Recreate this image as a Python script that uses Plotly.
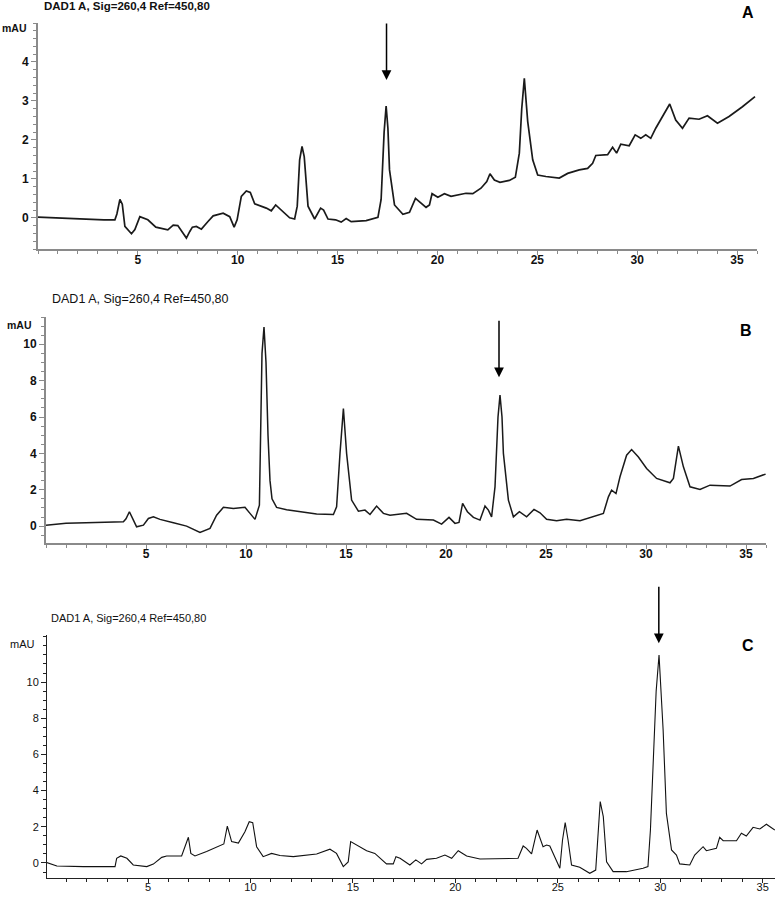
import plotly.graph_objects as go

# --- panel A (time in min, signal in mAU) ---
a_time = [0.0, 0.8, 1.5, 2.5, 3.3, 3.85, 3.95, 4.1, 4.22, 4.35, 4.68, 4.85, 5.1, 5.5, 5.9, 6.5,
          6.77, 7.0, 7.2, 7.43, 7.6, 7.73, 7.93, 8.18, 8.5, 8.77, 9.27, 9.6, 9.82, 9.97, 10.18,
          10.43, 10.63, 10.85, 11.43, 11.68, 11.9, 12.18, 12.6, 12.85, 12.98, 13.1, 13.22, 13.33,
          13.52, 13.85, 14.15, 14.3, 14.52, 14.9, 15.18, 15.43, 15.68, 16.43, 17.02, 17.18, 17.33,
          17.43, 17.52, 17.6, 17.85, 18.27, 18.6, 18.9, 19.18, 19.43, 19.6, 19.73, 20.02, 20.35,
          20.68, 21.43, 21.77, 22.18, 22.47, 22.63, 22.85, 23.13, 23.6, 23.9, 24.1, 24.22, 24.35,
          24.45, 24.52, 24.77, 25.02, 25.43, 26.1, 26.52, 27.1, 27.52, 27.77, 27.93, 28.52, 28.77,
          28.97, 29.18, 29.6, 29.9, 30.18, 30.43, 30.68, 30.93, 31.35, 31.63, 31.93, 32.27, 32.6,
          33.1, 33.52, 34.02, 34.6, 35.27, 35.9]
a_mau = [0.02, 0.0, -0.02, -0.03, -0.05, -0.05, 0.1, 0.47, 0.35, -0.22, -0.41, -0.3, 0.03, -0.05,
         -0.24, -0.31, -0.19, -0.2, -0.35, -0.52, -0.35, -0.24, -0.22, -0.29, -0.1, 0.05, 0.12,
         0.03, -0.24, -0.05, 0.55, 0.69, 0.65, 0.36, 0.25, 0.18, 0.33, 0.2, 0.0, -0.03, 0.3, 1.49,
         1.83, 1.57, 0.3, -0.03, 0.25, 0.2, -0.03, -0.05, -0.11, -0.02, -0.1, -0.07, 0.01, 0.47,
         2.2, 2.87, 2.3, 1.23, 0.33, 0.09, 0.14, 0.5, 0.37, 0.27, 0.33, 0.62, 0.53, 0.62, 0.55,
         0.63, 0.62, 0.76, 0.93, 1.13, 0.97, 0.91, 0.96, 1.04, 1.66, 2.8, 3.58, 3.0, 2.47, 1.49,
         1.1, 1.06, 1.02, 1.14, 1.23, 1.27, 1.4, 1.6, 1.62, 1.81, 1.66, 1.89, 1.85, 2.13, 2.04,
         2.13, 2.04, 2.3, 2.68, 2.92, 2.51, 2.3, 2.56, 2.53, 2.62, 2.43, 2.6, 2.85, 3.11]

# --- panel B ---
b_time = [0.0, 1.0, 2.0, 3.0, 3.87, 4.0, 4.17, 4.37, 4.53, 4.87, 5.12, 5.37, 5.7, 6.37, 7.03, 7.7,
          8.2, 8.53, 8.87, 9.37, 9.95, 10.2, 10.45, 10.67, 10.72, 10.8, 10.9, 11.0, 11.1, 11.2,
          11.3, 11.53, 12.03, 12.7, 13.53, 14.37, 14.53, 14.7, 14.87, 15.03, 15.28, 15.62, 15.95,
          16.2, 16.53, 16.87, 17.2, 18.03, 18.53, 19.37, 19.78, 20.15, 20.45, 20.65, 20.83, 21.07,
          21.37, 21.7, 21.95, 22.12, 22.28, 22.45, 22.6, 22.7, 22.8, 22.87, 23.12, 23.37, 23.67,
          24.03, 24.4, 24.7, 25.03, 25.53, 26.03, 26.7, 27.37, 27.87, 28.12, 28.28, 28.5, 28.7,
          29.03, 29.28, 29.62, 30.03, 30.53, 31.2, 31.37, 31.62, 31.87, 32.2, 32.7, 33.2, 34.2,
          34.78, 35.37, 35.98]
b_mau = [0.05, 0.15, 0.18, 0.2, 0.24, 0.4, 0.79, 0.33, -0.04, 0.05, 0.42, 0.51, 0.37, 0.18, 0.0,
         -0.35, -0.13, 0.6, 1.03, 0.97, 1.03, 0.7, 0.37, 1.15, 4.0, 9.5, 10.95, 9.0, 5.0, 2.5, 1.5,
         1.03, 0.9, 0.79, 0.66, 0.64, 1.06, 4.0, 6.47, 4.0, 1.43, 0.82, 0.88, 0.64, 1.1, 0.7, 0.6,
         0.7, 0.37, 0.33, 0.11, 0.48, 0.15, 0.2, 1.25, 0.79, 0.48, 0.33, 1.1, 0.88, 0.51, 2.16,
         6.0, 7.2, 6.0, 4.0, 1.43, 0.51, 0.79, 0.51, 0.92, 0.73, 0.38, 0.29, 0.38, 0.29, 0.51, 0.7,
         1.61, 1.98, 1.79, 2.71, 3.9, 4.21, 3.8, 3.17, 2.62, 2.38, 2.62, 4.4, 3.26, 2.16, 2.01,
         2.25, 2.2, 2.56, 2.62, 2.86]

# --- panel C ---
c_time = [0.06, 0.55, 1.85, 3.39, 3.47, 3.67, 3.97, 4.28, 4.94, 5.26, 5.67, 5.91, 6.64, 6.85, 6.97,
          7.09, 7.29, 7.86, 8.51, 8.7, 8.87, 9.08, 9.41, 9.73, 9.94, 10.11, 10.3, 10.62, 11.03,
          11.44, 12.09, 12.74, 13.23, 13.88, 14.2, 14.53, 14.77, 14.89, 15.18, 15.67, 16.07,
          16.32, 16.64, 16.97, 17.1, 17.3, 17.78, 18.07, 18.35, 18.6, 19.08, 19.49, 19.82, 20.14,
          20.55, 21.2, 22.01, 23.06, 23.31, 23.47, 23.72, 23.99, 24.28, 24.45, 24.61, 24.94, 25.1,
          25.23, 25.36, 25.5, 25.67, 26.07, 26.56, 26.85, 26.97, 27.07, 27.22, 27.38, 27.7, 28.35,
          29.16, 29.4, 29.52, 29.65, 29.8, 29.94, 30.05, 30.14, 30.3, 30.55, 30.79, 30.95, 31.44,
          31.68, 32.09, 32.25, 32.74, 32.9, 33.07, 33.72, 33.96, 34.2, 34.53, 34.86, 35.18, 35.59]
c_mau = [0.02, -0.17, -0.2, -0.2, 0.26, 0.39, 0.26, -0.11, -0.2, -0.06, 0.31, 0.39, 0.39, 0.99,
         1.42, 0.53, 0.39, 0.63, 0.99, 1.05, 2.04, 1.18, 1.1, 1.73, 2.28, 2.23, 0.9, 0.35, 0.53,
         0.41, 0.35, 0.42, 0.5, 0.76, 0.53, -0.2, 0.06, 1.18, 0.99, 0.68, 0.53, 0.26, -0.05, -0.05,
         0.35, 0.26, -0.11, 0.17, -0.05, 0.2, 0.26, 0.44, 0.26, 0.68, 0.39, 0.22, 0.22, 0.26, 0.94,
         0.81, 0.5, 1.82, 0.9, 0.99, 0.94, 0.07, -0.29, 1.27, 2.23, 1.27, -0.11, -0.24, -0.57,
         -0.39, 2.0, 3.39, 2.56, 0.07, -0.48, -0.48, -0.29, -0.2, 1.82, 5.51, 9.5, 11.49, 9.5,
         7.35, 2.74, 0.72, 0.44, -0.05, -0.11, 0.44, 0.9, 0.68, 0.81, 1.42, 1.23, 1.23, 1.64, 1.49,
         1.97, 1.88, 2.14, 1.82]

x_ticks = [5, 10, 15, 20, 25, 30, 35]
a_yticks = [0, 1, 2, 3, 4]
bc_yticks = [0, 2, 4, 6, 8, 10]
title_text = "DAD1 A, Sig=260,4 Ref=450,80"
marked = [(17.45, 3.54), (22.65, 8.19), (29.93, 12.15)]  # arrowed peaks A, B, C

W, H = 775, 899


def px(x):
    return x / W


def py(y):
    return 1 - y / H


fig = go.Figure()
fig.add_trace(go.Scatter(x=a_time, y=a_mau, mode="lines", xaxis="x", yaxis="y",
                         line=dict(color="#1a1a1a", width=1.7)))
fig.add_trace(go.Scatter(x=b_time, y=b_mau, mode="lines", xaxis="x2", yaxis="y2",
                         line=dict(color="#1a1a1a", width=1.5)))
fig.add_trace(go.Scatter(x=c_time, y=c_mau, mode="lines", xaxis="x3", yaxis="y3",
                         line=dict(color="#111", width=1.1)))

bold = dict(family="Liberation Sans, Arial", size=12, color="#111", weight="bold")
plain = dict(family="Liberation Sans, Arial", size=11, color="#111")


def xaxis(dom, rng, anchor, col, lw, font):
    return dict(domain=dom, range=rng, anchor=anchor, showline=True, linecolor=col,
                linewidth=lw, ticks="outside", ticklen=4, tickcolor=col, tickmode="array",
                tickvals=x_ticks, tickfont=font, showgrid=False, zeroline=False,
                ticklabelstandoff=-5,
                minor=dict(tickmode="linear", tick0=0, dtick=1, ticks="outside",
                           ticklen=3, tickcolor=col),
                fixedrange=True)


def yaxis(dom, rng, anchor, col, lw, font, vals, minor):
    return dict(domain=dom, range=rng, anchor=anchor, showline=True, linecolor=col,
                linewidth=lw, ticks="outside", ticklen=5, tickcolor=col, tickmode="array",
                tickvals=vals, tickfont=font, showgrid=False, zeroline=False,
                minor=dict(tickmode="linear", tick0=0, dtick=minor, ticks="outside",
                           ticklen=3, tickcolor=col),
                fixedrange=True)


fig.update_layout(
    width=W, height=H, margin=dict(l=0, r=0, t=0, b=0),
    paper_bgcolor="white", plot_bgcolor="white", showlegend=False,
    xaxis=xaxis([px(38), px(757)], [0, 36], "y", "#8a8a8a", 2, bold),
    yaxis=yaxis([py(249), py(23)], [-0.8, 5.0], "x", "#8a8a8a", 2, bold, a_yticks, 0.2),
    xaxis2=xaxis([px(46), px(766)], [0, 36], "y2", "#8a8a8a", 2, bold),
    yaxis2=yaxis([py(543), py(317)], [-0.93, 11.5], "x2", "#8a8a8a", 2, bold, bc_yticks, 0.5),
    xaxis3=xaxis([px(47), px(775)], [0.07, 35.6], "y3", "#222", 1, plain),
    yaxis3=yaxis([py(878), py(635)], [-0.83, 12.6], "x3", "#222", 1, plain, bc_yticks, 0.5),
)

anns = []
# headers
anns.append(dict(x=px(42), y=py(6), text=title_text, xanchor="left", yanchor="middle",
                 font=dict(family="Liberation Sans, Arial", size=11.5, color="#111", weight="bold")))
anns.append(dict(x=px(50), y=py(299), text=title_text, xanchor="left", yanchor="middle",
                 font=dict(family="Liberation Sans, Arial", size=12.5, color="#111")))
anns.append(dict(x=px(49), y=py(618), text=title_text, xanchor="left", yanchor="middle",
                 font=dict(family="Liberation Sans, Arial", size=11, color="#111")))
# mAU labels
anns.append(dict(x=px(29), y=py(28), text="mAU", xanchor="right", yanchor="middle",
                 font=dict(family="Liberation Sans, Arial", size=10.5, color="#111", weight="bold")))
anns.append(dict(x=px(34), y=py(325), text="mAU", xanchor="right", yanchor="middle",
                 font=dict(family="Liberation Sans, Arial", size=10.5, color="#111", weight="bold")))
anns.append(dict(x=px(37), y=py(644), text="mAU", xanchor="right", yanchor="middle",
                 font=dict(family="Liberation Sans, Arial", size=11, color="#111")))
# panel letters
for lab, xx, yy in [("A", 748, 13), ("B", 746, 330), ("C", 748, 645)]:
    anns.append(dict(x=px(xx), y=py(yy), text=lab, xanchor="center", yanchor="middle",
                     font=dict(family="Liberation Sans, Arial", size=16, color="#000",
                               weight="bold")))
for a in anns:
    a.update(xref="paper", yref="paper", showarrow=False)

# arrows over the marked peaks
for (t, v), ax_, ay_ in zip(marked, ["x", "x2", "x3"], ["y", "y2", "y3"]):
    anns.append(dict(x=t, y=v, xref=ax_, yref=ay_, ax=0, ay=-58, showarrow=True,
                     arrowhead=2, arrowsize=1.3, arrowwidth=1.5, arrowcolor="#000", text=""))

fig.update_layout(annotations=anns)
# the page body has a default margin; drop it so the figure sits at the window's corner
fig.write_html("out.html", config={"displayModeBar": False},
               post_script="document.body.style.margin='0';")
